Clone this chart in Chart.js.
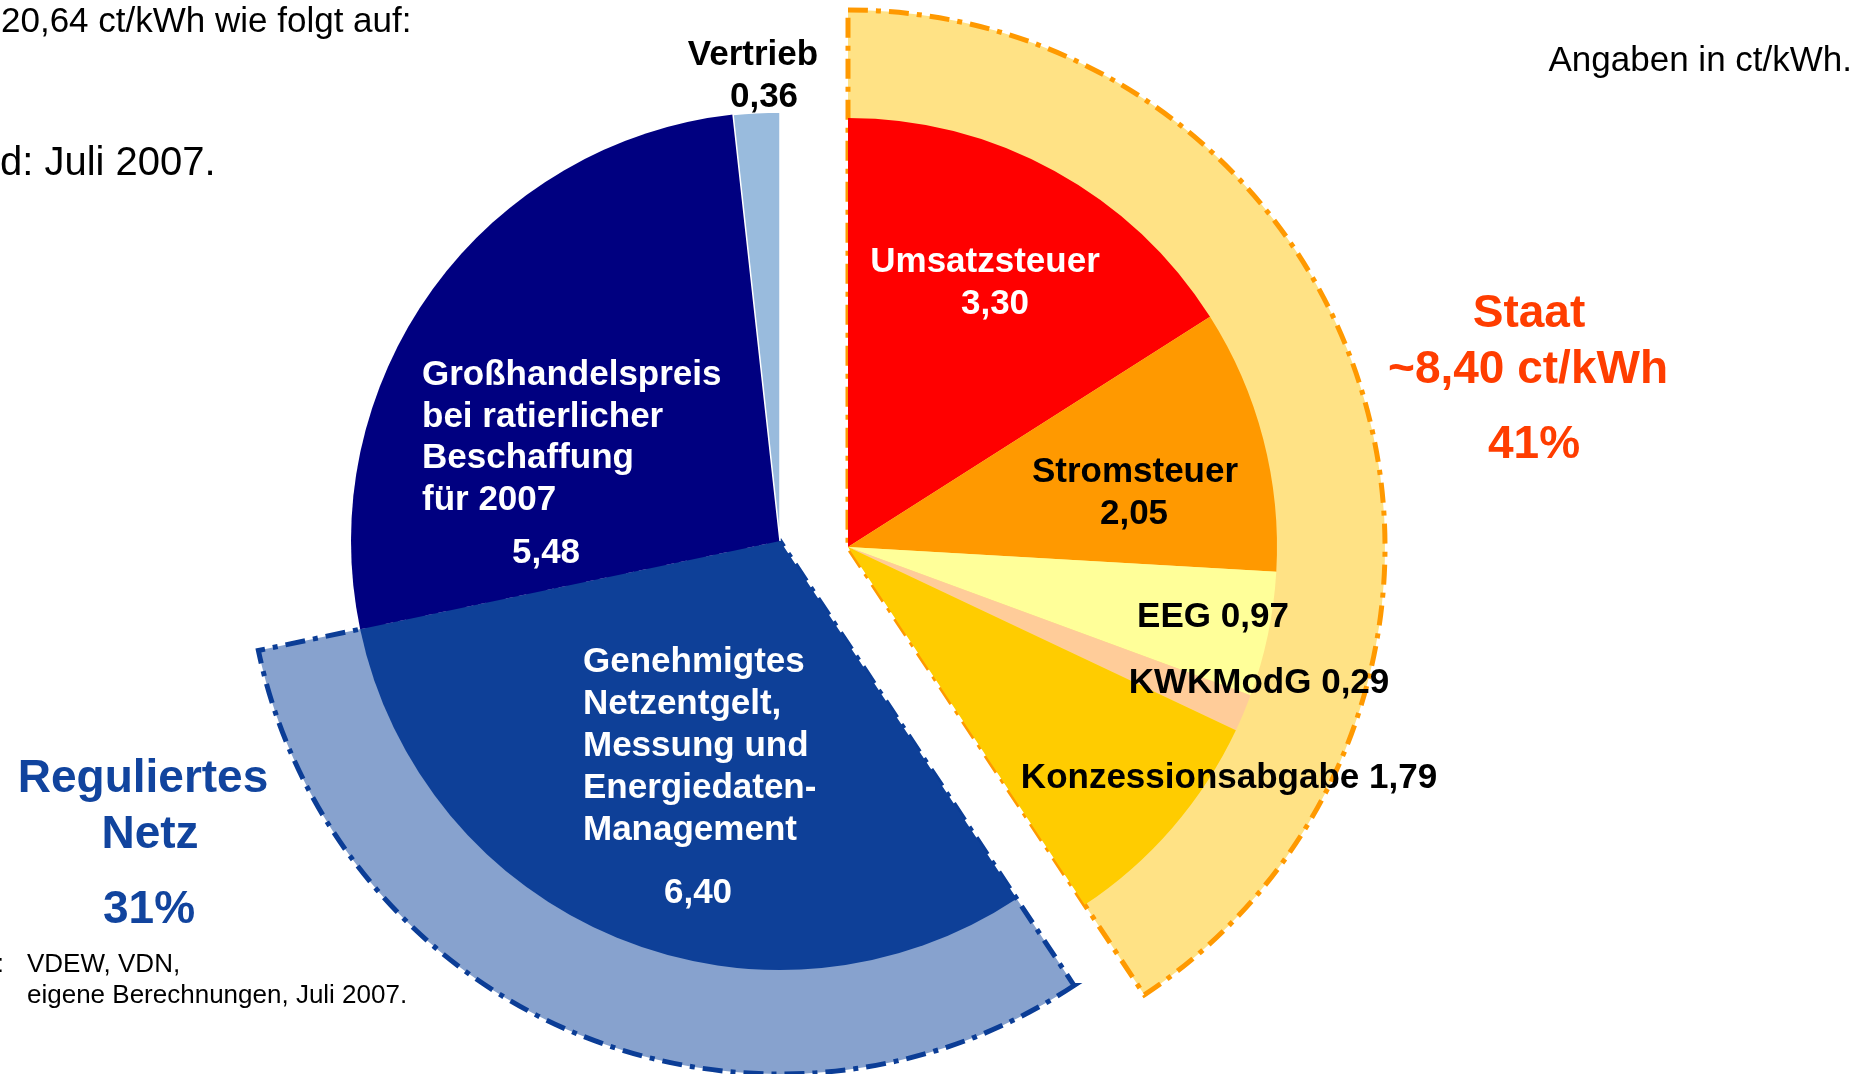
<!DOCTYPE html>
<html lang="de">
<head>
<meta charset="utf-8">
<title>Strompreis Juli 2007</title>
<script src="https://cdn.jsdelivr.net/npm/chart.js@4.4.1/dist/chart.umd.min.js"></script>
<style>
  html, body { margin: 0; padding: 0; background: #fff; }
  #stage { position: relative; width: 1869px; height: 1074px; overflow: hidden; }
  #stage canvas { position: absolute; left: 0; top: 0; }
</style>
</head>
<body>
<div id="stage">
  <canvas id="netzRing" width="1869" height="1074"></canvas>
  <canvas id="leftPie" width="1869" height="1074"></canvas>
  <canvas id="staatRing" width="1869" height="1074"></canvas>
  <canvas id="rightPie" width="1869" height="1074"></canvas>
</div>
<script>
// slices, clockwise from 12 o'clock
const categories = [
    'Umsatzsteuer', 'Stromsteuer', 'EEG', 'KWKModG', 'Konzessionsabgabe',
    ['Genehmigtes', 'Netzentgelt,', 'Messung und', 'Energiedaten-', 'Management'],
    ['Großhandelspreis', 'bei ratierlicher', 'Beschaffung', 'für 2007'],
    'Vertrieb'
];
const values = [3.30, 2.05, 0.97, 0.29, 1.79, 6.40, 5.48, 0.36];
const sliceGroup = [0, 0, 0, 0, 0, 1, 2, 2]; // index into groups
const sliceColors = ['#ff0000', '#ff9900', '#ffff99', '#ffcc99', '#ffcc00', '#0e4098', '#000080', '#99bbdd'];

// outer sectors
const groups = ['Staat', 'Reguliertes Netz', 'Markt'];
const groupValues = [8.40, 6.40, 5.84];
const groupColors = ['#ffe285', '#87a2ce', null];
const groupBorders = ['#ff9900', '#0b3d96', null];

const W = 1869, H = 1074;
const FONT = '"Liberation Sans", Arial, sans-serif';
const CLEAR = 'rgba(0,0,0,0)';
const DASH = [20, 8, 5, 8];

const total = values.reduce((a, b) => a + b, 0);
const fmt = v => v.toFixed(2).replace('.', ',');
const pct = v => Math.round(v / total * 100) + '%';
const lines = i => Array.isArray(categories[i]) ? categories[i] : [categories[i]];

// staat part is pulled out to the right
const leftCenter = { x: 780, y: 541 };
const rightCenter = { x: 848, y: 547 };
const pieRadius = 429;
const netzRingRadius = 533;
const staatRingRadius = 537;

function paddingFor(c) {
    return {
        left: Math.max(0, 2 * c.x - W), right: Math.max(0, W - 2 * c.x),
        top: Math.max(0, 2 * c.y - H), bottom: Math.max(0, H - 2 * c.y)
    };
}

// draws text items relative to the pie centre (or the page if absolute)
function textPlugin(id, items, absolute) {
    return {
        id: id,
        afterDatasetsDraw(chart) {
            const ctx = chart.ctx;
            const arc = chart.getDatasetMeta(0).data[0];
            const ox = absolute ? 0 : arc.x;
            const oy = absolute ? 0 : arc.y;
            ctx.save();
            ctx.textBaseline = 'alphabetic';
            items.forEach(it => {
                ctx.font = it.font || `bold 35px ${FONT}`;
                ctx.fillStyle = it.color || '#000';
                ctx.textAlign = it.align || 'center';
                ctx.fillText(it.text, ox + it.x, oy + it.y);
            });
            ctx.restore();
        }
    };
}

const dashPlugin = {
    id: 'dash',
    beforeDatasetsDraw(chart) { chart.ctx.setLineDash(DASH); }
};

function pie(canvasId, center, radius, labels, data, colors, borderWidths, borderColors, extraPlugins) {
    return new Chart(document.getElementById(canvasId), {
        type: 'pie',
        data: {
            labels: labels,
            datasets: [{
                data: data,
                backgroundColor: colors,
                borderWidth: borderWidths,
                borderColor: borderColors,
                borderDash: borderWidths.some(w => w > 2) ? DASH : [],
                borderJoinStyle: 'miter'
            }]
        },
        options: {
            responsive: false,
            animation: false,
            devicePixelRatio: 1,
            events: [],
            radius: radius,
            layout: { padding: paddingFor(center) },
            plugins: { legend: { display: false }, tooltip: { enabled: false } }
        },
        plugins: extraPlugins
    });
}

const groupLabels = groups;
const sliceLabels = categories.map(c => Array.isArray(c) ? c.join(' ') : c);

// outer sector of Reguliertes Netz
pie('netzRing', leftCenter, netzRingRadius, groupLabels, groupValues,
    groupValues.map((v, g) => g === 1 ? groupColors[g] : CLEAR),
    groupValues.map((v, g) => g === 1 ? 5 : 0),
    groupValues.map((v, g) => g === 1 ? groupBorders[g] : CLEAR),
    [dashPlugin]);

// left pie: Netz + Markt
const leftLabels = [
    { text: lines(7)[0], x: -27, y: -476 },
    { text: fmt(values[7]), x: -16, y: -434 },
    ...lines(6).map((t, k) => ({ text: t, x: -358, y: -156 + k * 41.7, align: 'left', color: '#fff' })),
    { text: fmt(values[6]), x: -234, y: 22, color: '#fff' },
    ...lines(5).map((t, k) => ({ text: t, x: -197, y: 131 + k * 42, align: 'left', color: '#fff' })),
    { text: fmt(values[5]), x: -82, y: 362, color: '#fff' }
];
pie('leftPie', leftCenter, pieRadius, sliceLabels, values,
    values.map((v, i) => sliceGroup[i] !== 0 ? sliceColors[i] : CLEAR),
    values.map((v, i) => i === 7 ? 1.5 : 0),
    values.map(() => '#ffffff'),
    [textPlugin('leftLabels', leftLabels, false)]);

// outer sector of Staat
pie('staatRing', rightCenter, staatRingRadius, groupLabels, groupValues,
    groupValues.map((v, g) => g === 0 ? groupColors[g] : CLEAR),
    groupValues.map((v, g) => g === 0 ? 5 : 0),
    groupValues.map((v, g) => g === 0 ? groupBorders[g] : CLEAR),
    [dashPlugin]);

// right pie: Staat
const rightLabels = [
    { text: categories[0], x: 137, y: -275, color: '#fff' },
    { text: fmt(values[0]), x: 147, y: -233, color: '#fff' },
    { text: categories[1], x: 287, y: -65 },
    { text: fmt(values[1]), x: 286, y: -23 },
    { text: categories[2] + ' ' + fmt(values[2]), x: 365, y: 80 },
    { text: categories[3] + ' ' + fmt(values[3]), x: 411, y: 146 },
    { text: categories[4] + ' ' + fmt(values[4]), x: 381, y: 241 }
];

const staatRed = '#ff3d00';
const netzBlue = '#11449e';
const notes = [
    { text: fmt(total) + ' ct/kWh wie folgt auf:', x: 1, y: 32, align: 'left', font: `35px ${FONT}` },
    { text: 'd: Juli 2007.', x: 0, y: 175, align: 'left', font: `40px ${FONT}` },
    { text: 'Angaben in ct/kWh.', x: 1852, y: 71, align: 'right', font: `35px ${FONT}` },
    { text: groups[0], x: 1529, y: 327, font: `bold 46px ${FONT}`, color: staatRed },
    { text: '~' + fmt(groupValues[0]) + ' ct/kWh', x: 1528, y: 383, font: `bold 46px ${FONT}`, color: staatRed },
    { text: pct(groupValues[0]), x: 1534, y: 458, font: `bold 46px ${FONT}`, color: staatRed },
    { text: 'Reguliertes', x: 143, y: 792, font: `bold 46px ${FONT}`, color: netzBlue },
    { text: 'Netz', x: 150, y: 848, font: `bold 46px ${FONT}`, color: netzBlue },
    { text: pct(groupValues[1]), x: 149, y: 923, font: `bold 46px ${FONT}`, color: netzBlue },
    { text: ':', x: 4, y: 972, align: 'right', font: `26px ${FONT}` },
    { text: 'VDEW, VDN,', x: 27, y: 972, align: 'left', font: `26px ${FONT}` },
    { text: 'eigene Berechnungen, Juli 2007.', x: 27, y: 1003, align: 'left', font: `26px ${FONT}` }
];

pie('rightPie', rightCenter, pieRadius, sliceLabels, values,
    values.map((v, i) => sliceGroup[i] === 0 ? sliceColors[i] : CLEAR),
    values.map(() => 0),
    values.map(() => '#ffffff'),
    [textPlugin('rightLabels', rightLabels, false), textPlugin('notes', notes, true)]);
</script>
</body>
</html>
